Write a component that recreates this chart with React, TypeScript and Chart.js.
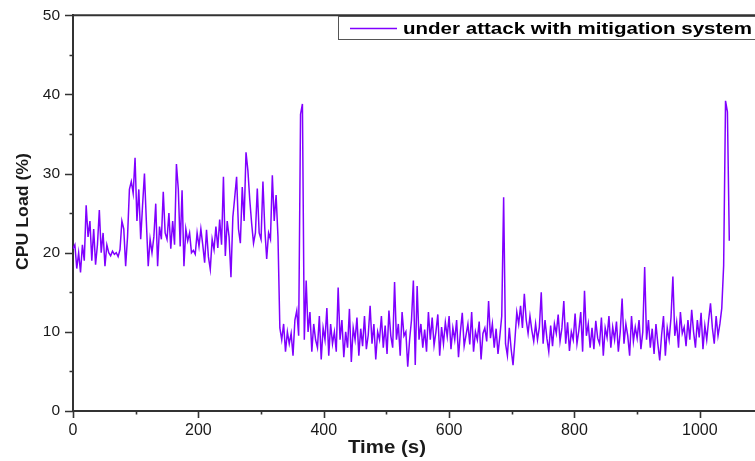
import React, { useEffect, useRef } from "react";
import { Chart, registerables } from "chart.js";

Chart.register(...registerables);

// Sampling interval of the series (seconds)
const TIME_STEP_S = 3;

// CPU load (%) before the mitigation kicks in: t = 0 .. 327 s
const cpuBeforeMitigation: number[] = [
  20.5, 21, 18, 20, 17.5, 21, 19, 26, 22, 24,
  19, 23, 18.5, 21, 25.4, 20, 22.5, 18.3, 21, 20,
  19.6, 20.2, 19.8, 20, 19.5, 20.4, 24, 23, 18.3, 22,
  28, 29, 27.5, 32, 24, 28, 21.7, 26, 30, 24,
  18.3, 21.7, 20, 22, 26.2, 18.3, 23.3, 21.7, 27.7, 22.5,
  21.7, 25, 20.5, 24, 21, 31.2, 28, 20.8, 27.9, 18.3,
  23, 21.5, 22.5, 20, 20.3, 19.8, 22.5, 20.8, 23, 21,
  18.75, 22.9, 19.5, 17.9, 21.7, 20.4, 23.3, 20.6, 24.2, 21,
  29.6, 19.6, 24, 22, 16.9, 24.5, 27, 29.6, 23, 21.2,
  28.3, 24, 32.7, 30.4, 26.7, 23.7, 21.2, 22.5, 28.1, 22.5,
  21.7, 29, 23, 19.2, 22.5, 21.7, 29.8, 24, 27.3, 22,
];

// CPU load (%) with the mitigation system active: t = 330 .. 1047 s
const cpuWithMitigation: number[] = [
  10.5, 9, 11, 7.5, 10, 8.5, 9.8, 7, 11.5, 12.7,
  9.5, 37.5, 38.8, 9, 16.5, 10, 12.5, 7.5, 11, 9,
  8, 12, 6.5, 10.5, 9, 13, 7, 11, 8.5, 10,
  7.5, 15.6, 9, 11.5, 6.8, 10, 8, 12.9, 6.2, 10.5,
  9, 11.8, 7, 10.4, 8.2, 12, 7.8, 9.6, 13.3, 8.5,
  11, 6.5, 10, 9, 12, 8, 10.8, 7.2, 12.7, 9.5,
  8, 16.3, 9, 11, 7, 12.5, 9.5, 10, 5.6, 9,
  11.5, 16.5, 5.8, 15.8, 9, 11, 8, 10.3, 7.5, 12.5,
  9, 11.8, 8.3, 10, 12.2, 7, 10.6, 8.5, 11.2, 9.4,
  12, 7.8, 10.5, 9, 11.5, 6.8, 10, 12.4, 8.2, 9.6,
  11, 8.4, 12.5, 7.5, 10, 9, 11.3, 6.5, 9.8, 10.5,
  8.8, 13.9, 9.2, 11, 8, 10.4, 7.2, 9.5, 12, 27,
  8.5, 7, 10.5, 7.8, 5.8, 9, 12.5, 11, 13.3, 10.5,
  14.8, 11.5, 9.8, 12, 10.2, 8.8, 11, 9, 10.6, 15,
  8.5, 11.5, 9.2, 7.5, 10.8, 8.2, 11, 9.8, 12.2, 8.8,
  10.5, 13.9, 8.5, 11.2, 7.6, 10, 9, 12.3, 8.5, 10.2,
  12.5, 7.5, 15.2, 9.5, 11, 8, 10.5, 7.8, 11.4, 9.2,
  8.5, 11.8, 7, 10.5, 9.3, 12, 8, 10.6, 9, 11.3,
  7.5, 10, 14.2, 8.5, 11, 9.5, 7, 12, 8.8, 10.6,
  9.2, 11.5, 7.8, 10, 18.2, 9, 11.5, 8, 10.4, 7.2,
  11, 8.5, 6.4, 9.6, 12, 7, 10.5, 9, 11.8, 17,
  9.5, 11.2, 8, 12.5, 9.8, 10.6, 8.2, 11.5, 9, 12.8,
  10, 8, 11.5, 9.3, 12.4, 7.8, 10.8, 9, 11.5, 13.6,
  10.5, 8.5, 12, 9.5, 11, 13, 18.4, 39.2, 37.8, 21.5,
];

const cpuLoad: number[] = [...cpuBeforeMitigation, ...cpuWithMitigation];
const times: number[] = cpuLoad.map((_, i) => i * TIME_STEP_S);

const SERIES_LABEL = "under attack with mitigation system";
const X_TITLE = "Time (s)";
const Y_TITLE = "CPU Load (%)";

const X_MIN = 0;
const X_MAX = 1088;
const X_MAJOR = 200;
const X_MINOR = 100;
const Y_MIN = 0;
const Y_MAX = 50;
const Y_MAJOR = 10;
const Y_MINOR = 5;

const LINE_COLOR = "rgb(128, 0, 255)";
const AXIS_COLOR = "#333333";
const TEXT_COLOR = "#1a1a1a";
const FONT = "'Liberation Sans', Arial, sans-serif";

function drawScaledText(
  ctx: CanvasRenderingContext2D,
  text: string,
  targetWidth: number,
) {
  const w = ctx.measureText(text).width;
  const s = targetWidth / w;
  ctx.scale(s, 1);
  ctx.fillText(text, 0, 0);
}

const decorPlugin = {
  id: "decor",
  afterDraw(chart: any) {
    const ctx: CanvasRenderingContext2D = chart.ctx;
    const { left, right, top, bottom } = chart.chartArea;
    const xs = chart.scales.x;
    const ys = chart.scales.y;
    ctx.save();

    // top frame line
    ctx.strokeStyle = AXIS_COLOR;
    ctx.lineWidth = 2;
    ctx.beginPath();
    ctx.moveTo(left - 1, top);
    ctx.lineTo(right + 2, top);
    ctx.stroke();

    // tick marks
    ctx.lineWidth = 1.6;
    ctx.beginPath();
    for (let v = X_MIN; v <= X_MAX; v += X_MINOR) {
      const p = Math.round(xs.getPixelForValue(v)) + 0.5;
      const len = v % X_MAJOR === 0 ? 7 : 3.5;
      ctx.moveTo(p, bottom);
      ctx.lineTo(p, bottom + len);
    }
    for (let v = Y_MIN; v <= Y_MAX; v += Y_MINOR) {
      const p = Math.round(ys.getPixelForValue(v)) + 0.5;
      const len = v % Y_MAJOR === 0 ? 8 : 3.5;
      ctx.moveTo(left, p);
      ctx.lineTo(left - len, p);
    }
    ctx.stroke();

    // axis titles
    ctx.fillStyle = TEXT_COLOR;
    ctx.font = `bold 18px ${FONT}`;
    ctx.textBaseline = "alphabetic";
    ctx.textAlign = "left";
    ctx.save();
    ctx.translate(348, 453);
    drawScaledText(ctx, X_TITLE, 78);
    ctx.restore();

    ctx.font = `bold 17px ${FONT}`;
    ctx.save();
    ctx.translate(28, 270);
    ctx.rotate(-Math.PI / 2);
    drawScaledText(ctx, Y_TITLE, 117);
    ctx.restore();

    // legend box
    ctx.strokeStyle = "#555555";
    ctx.lineWidth = 1;
    ctx.strokeRect(338.5, 16.5, 430, 23);
    ctx.strokeStyle = LINE_COLOR;
    ctx.lineWidth = 1.5;
    ctx.beginPath();
    ctx.moveTo(350, 28.5);
    ctx.lineTo(397, 28.5);
    ctx.stroke();
    ctx.fillStyle = "#000000";
    ctx.font = `bold 17px ${FONT}`;
    ctx.save();
    ctx.translate(403, 34);
    drawScaledText(ctx, chart.data.datasets[0].label, 349);
    ctx.restore();

    ctx.restore();
  },
};

export default function App() {
  const canvasRef = useRef<HTMLCanvasElement | null>(null);

  useEffect(() => {
    if (!canvasRef.current) return;
    const points = times.map((t, i) => ({ x: t, y: cpuLoad[i] }));
    const chart = new Chart(canvasRef.current, {
      type: "line",
      data: {
        datasets: [
          {
            label: SERIES_LABEL,
            data: points,
            borderColor: LINE_COLOR,
            borderWidth: 1.5,
            pointRadius: 0,
            tension: 0,
            fill: false,
          },
        ],
      },
      options: {
        animation: false,
        responsive: true,
        maintainAspectRatio: false,
        layout: { padding: { top: 15, left: 0, right: 0, bottom: 0 } },
        plugins: {
          legend: { display: false },
          tooltip: { enabled: false },
        },
        scales: {
          x: {
            type: "linear",
            min: X_MIN,
            max: X_MAX,
            afterFit: (scale: any) => {
              scale.height = 50;
            },
            border: { display: true, color: AXIS_COLOR, width: 2 },
            grid: {
              display: true,
              drawOnChartArea: false,
              drawTicks: true,
              tickLength: 7,
              tickColor: "rgba(0,0,0,0)",
            },
            ticks: {
              stepSize: X_MAJOR,
              includeBounds: false,
              autoSkip: false,
              maxRotation: 0,
              padding: 3,
              color: TEXT_COLOR,
              font: { family: FONT, size: 16 },
              callback: (v: any) => (Number(v) % X_MAJOR === 0 ? String(v) : ""),
            },
          },
          y: {
            type: "linear",
            min: Y_MIN,
            max: Y_MAX,
            afterFit: (scale: any) => {
              scale.width = 73;
            },
            border: { display: true, color: AXIS_COLOR, width: 2 },
            grid: {
              display: true,
              drawOnChartArea: false,
              drawTicks: true,
              tickLength: 7,
              tickColor: "rgba(0,0,0,0)",
            },
            ticks: {
              stepSize: Y_MAJOR,
              padding: 6,
              color: TEXT_COLOR,
              font: { family: FONT, size: 15.5 },
              callback: (v: any) => String(v),
            },
          },
        },
      },
      plugins: [decorPlugin],
    });
    return () => chart.destroy();
  }, []);

  return (
    <div
      style={{
        position: "absolute",
        left: 0,
        top: 0,
        width: 755,
        height: 461,
        overflow: "hidden",
        background: "#ffffff",
      }}
    >
      <canvas ref={canvasRef} />
    </div>
  );
}
